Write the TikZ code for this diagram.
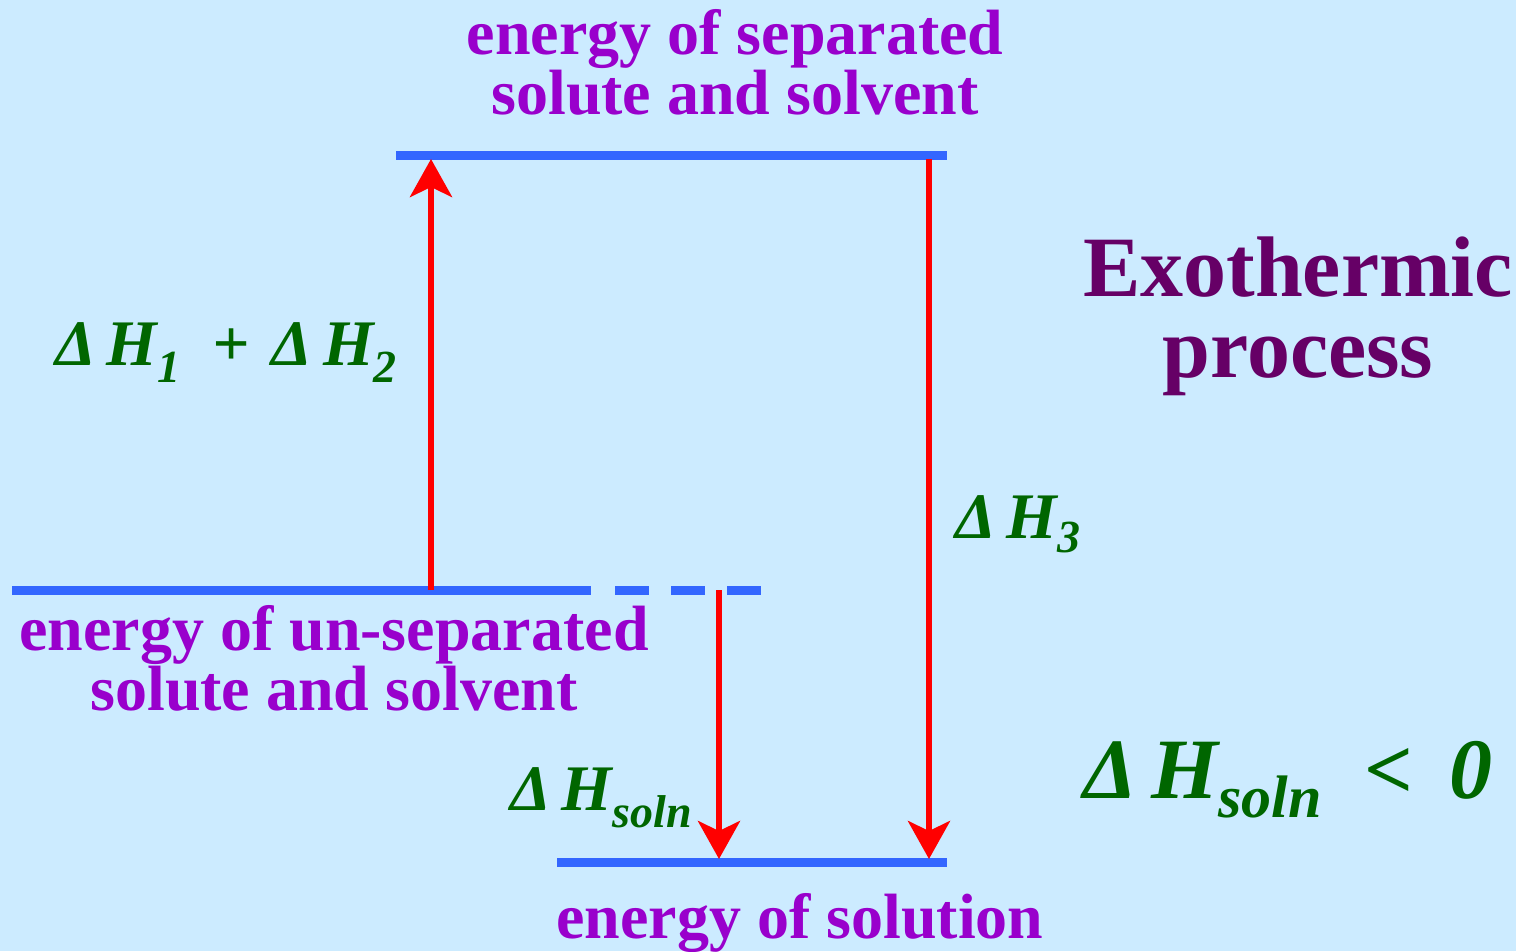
\documentclass[tikz,border=0pt]{standalone}
\usepackage{fontspec}
\setmainfont{Liberation Serif}
\usetikzlibrary{arrows.meta}
\definecolor{bg}{HTML}{CCEBFF}
\definecolor{lvl}{HTML}{3366FF}
\definecolor{lbl}{HTML}{9900CC}
\definecolor{ttl}{HTML}{660066}
\definecolor{grn}{HTML}{006600}
\newcommand{\mysub}[3]{\raisebox{-#2pt}{\fontsize{#1}{#1}\selectfont #3}}
\tikzset{
  level/.style={draw=lvl, line width=9pt},
  energyarrow/.style={draw=red, line width=6pt, -{Stealth[length=38pt,width=42pt,inset=10pt]}},
  lab/.style={text=lbl, font=\fontsize{64}{60}\selectfont\bfseries, inner sep=0pt, anchor=base},
  ttlstyle/.style={text=ttl, font=\fontsize{86}{86}\selectfont\bfseries, inner sep=0pt, anchor=base},
  dh/.style={text=grn, font=\fontsize{65}{65}\selectfont\bfseries\itshape, inner sep=0pt, anchor=base west},
  dhbig/.style={text=grn, font=\fontsize{86}{86}\selectfont\bfseries\itshape, inner sep=0pt, anchor=base west}
}
\begin{document}
\begin{tikzpicture}[x=1pt,y=-1pt]
\fill[bg] (0,0) rectangle (1516,951);
\useasboundingbox (0,0) rectangle (1516,951);
% level coordinates
\coordinate (topL) at (396,155);
\coordinate (topR) at (947,155);
\coordinate (midL) at (12,590);
\coordinate (midR) at (591,590);
\coordinate (dashL) at (615,590);
\coordinate (dashR) at (762,590);
\coordinate (botL) at (557,862);
\coordinate (botR) at (947,862);
% levels
\draw[level] (topL) -- (topR);
\draw[level] (midL) -- (midR);
\draw[level, dash pattern=on 34pt off 22pt] (dashL) -- (dashR);
\draw[level] (botL) -- (botR);
% arrow end points
\coordinate (a1s) at (431,590);
\coordinate (a1e) at (431,159);
\coordinate (a3s) at (929,159);
\coordinate (a3e) at (929,859);
\coordinate (a4s) at (719,590);
\coordinate (a4e) at (719,859);
\draw[energyarrow] (a1s) -- (a1e);
\draw[energyarrow] (a3s) -- (a3e);
\draw[energyarrow] (a4s) -- (a4e);
% level labels
\node[lab] (sep1) at (735,54) {energy of separated};
\node[lab] (sep2) at (735,114) {solute and solvent};
\node[lab] (uns1) at (334,650) {energy of un-separated};
\node[lab] (uns2) at (334,710) {solute and solvent};
\node[lab] (sol) at (800,938) {energy of solution};
% title
\node[ttlstyle] (exo) at (1298,296) {Exothermic};
\node[ttlstyle] (proc) at (1298,377) {process};
% enthalpy labels
\node[dh] (dh12) at (55,365) {Δ\,H\mysub{46}{17}{1}\ \ +\,\,Δ\,H\mysub{46}{17}{2}};
\node[dh] (dh3) at (955,538) {Δ\,H\mysub{46}{14}{3}};
\node[dh] (dhs) at (510,810) {Δ\,H\mysub{46}{17}{soln}};
\node[dhbig] (dhsb) at (1083,798) {Δ\,H\mysub{60}{19}{soln}\ \ <\ \,0};
\end{tikzpicture}
\end{document}
